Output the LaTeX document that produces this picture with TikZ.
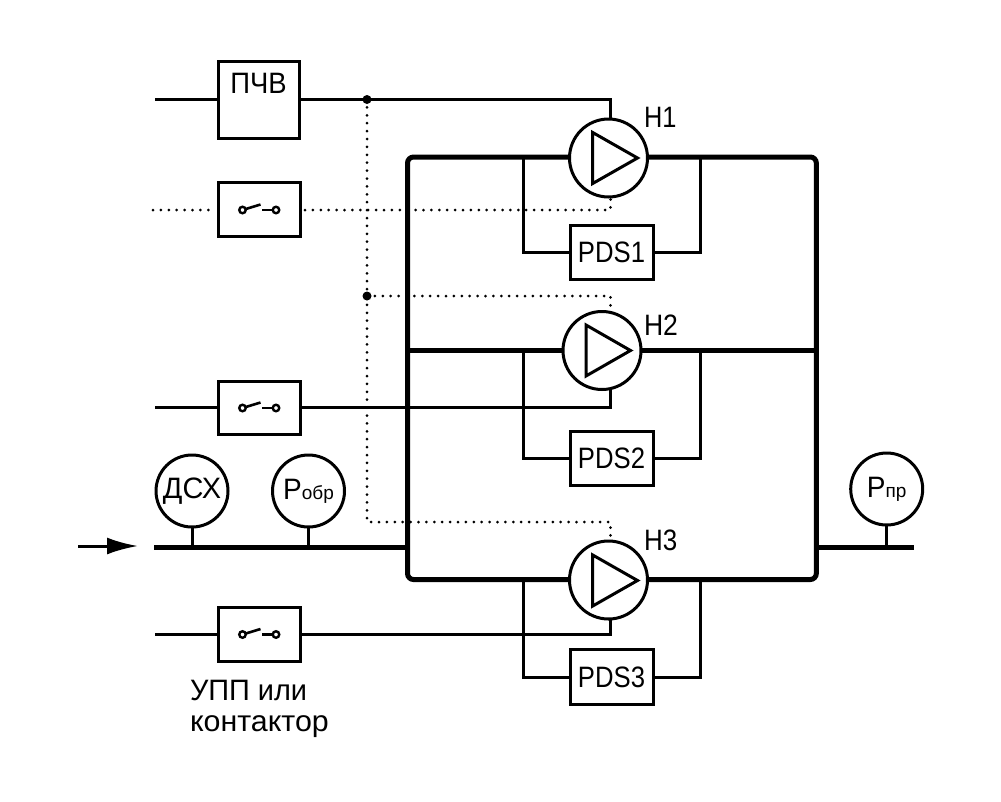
\documentclass[tikz,border=0pt]{standalone}
\usepackage{fontspec}
\setmainfont{Liberation Sans}
\usetikzlibrary{arrows.meta}
\newcommand{\strtxt}[2]{{\addfontfeature{FakeStretch=#1}#2}}
\tikzset{
  wire/.style={line width=3pt,draw=black},
  pipe/.style={line width=5pt,draw=black},
  dotline/.style={line width=3pt,line cap=round,dash pattern=on 0pt off 7.9pt,draw=black},
  box/.style={draw=black,line width=3pt,fill=white,rectangle,inner sep=0pt,outer sep=0pt,font=\fontsize{29.5}{30}\selectfont},
  pumpc/.style={draw=black,line width=3pt,fill=white,circle,inner sep=0pt,outer sep=0pt,minimum size=78pt},
  gauge/.style={draw=black,line width=3pt,fill=white,circle,inner sep=0pt,outer sep=0pt,minimum size=72pt,font=\fontsize{29.5}{30}\selectfont},
  tri/.style={draw=black,line width=3pt,line join=miter,fill=none},
  lab/.style={anchor=base west,inner sep=0pt,outer sep=0pt,font=\fontsize{29.5}{30}\selectfont},
  caption/.style={anchor=base west,inner sep=0pt,outer sep=0pt,font=\fontsize{29.5}{30}\selectfont},
  junction/.style={circle,fill=black,inner sep=0pt,minimum size=9pt},
  contact/.style={circle,draw=black,line width=2.4pt,fill=white,inner sep=0pt,minimum size=6.5pt},
  swline/.style={line width=2.6pt,draw=black}
}
\newcommand{\subtxt}[1]{{\fontsize{19}{20}\selectfont #1}}
\begin{document}
\begin{tikzpicture}[x=1pt,y=-1pt]
\useasboundingbox[fill=white] (0,0) rectangle (1001,801);

% named points
\coordinate (in1) at (155,99.5);
\coordinate (in2) at (153,210);
\coordinate (in3) at (155,407.5);
\coordinate (in4) at (155,634.5);
\coordinate (j1) at (367,99.5);
\coordinate (j2) at (367,296);
\coordinate (c1) at (610.5,99.5);
\coordinate (c2) at (610.5,210);
\coordinate (c3) at (610.5,296);
\coordinate (c4) at (610.5,407.5);
\coordinate (c5) at (610.5,522);
\coordinate (c6) at (610.5,634.5);
\coordinate (d3) at (367,522);
\coordinate (g2) at (305,210);

% dotted control lines
\draw[dotline] (in2) -- (213,210);
\draw[dotline] (g2) -- (c2) -- (610.5,199);
\draw[dotline] (j1) -- (d3) -- (c5) -- (610.5,541);
\draw[dotline] (j2) -- (c3) -- (610.5,311);

% pipes
\coordinate (fl) at (407.5,157);
\coordinate (br) at (816.3,579.5);
\draw[pipe,rounded corners=6pt] (fl) rectangle (br);
\coordinate (m1) at (409,350.5);
\coordinate (m2) at (819,350.5);
\draw[pipe] (m1) -- (m2);
\coordinate (p1) at (154,547);
\coordinate (p2) at (407.5,547);
\coordinate (p3) at (816.3,547);
\coordinate (p4) at (914,547);
\draw[pipe] (p1) -- (p2);
\draw[pipe] (p3) -- (p4);

% boxes
\node[box,minimum width=81pt,minimum height=77pt] (pchv) at (258.5,100) {};
\node[lab,anchor=base] (pchvt) at (258.5,93) {\strtxt{0.93}{ПЧВ}};
\node[box,minimum width=82pt,minimum height=54pt] (s1) at (259,209) {};
\node[box,minimum width=82pt,minimum height=53pt] (s2) at (259,407.5) {};
\node[box,minimum width=82pt,minimum height=54pt] (s3) at (259,634) {};
\node[box,minimum width=83pt,minimum height=54pt] (pds1) at (611.5,252.5) {\strtxt{0.87}{PDS1}};
\node[box,minimum width=83pt,minimum height=54pt] (pds2) at (611.5,458) {\strtxt{0.87}{PDS2}};
\node[box,minimum width=83pt,minimum height=54.5pt] (pds3) at (611.5,677) {\strtxt{0.87}{PDS3}};

% pumps
\node[pumpc] (h1) at (608.5,158) {};
\node[pumpc] (h2) at (602,350.5) {};
\node[pumpc] (h3) at (608.5,580) {};

% solid control wires
\draw[wire] (in1) -- (pchv.west |- in1);
\draw[wire] (pchv.east |- in1) -- (c1) -- (c1 |- h1.north);
\draw[wire] (in3) -- (s2.west |- in3);
\draw[wire] (s2.east |- in3) -- (c4) -- (c4 |- h2.south);
\draw[wire] (in4) -- (s3.west |- in4);
\draw[wire] (s3.east |- in4) -- (c6) -- (c6 |- h3.south);

% pump symbols
\draw[tri] (592.7,132.5) -- (592.7,183.5) -- (637.5,158) -- cycle;
\draw[tri] (586,325) -- (586,376) -- (630.5,350.5) -- cycle;
\draw[tri] (592.7,555) -- (592.7,606) -- (637.5,580.5) -- cycle;

% bypass lines
\coordinate (b1a) at (523,157);
\coordinate (b1b) at (700,157);
\coordinate (b2a) at (523,350.5);
\coordinate (b2b) at (700,350.5);
\coordinate (b3a) at (523,579.5);
\coordinate (b3b) at (700,579.5);
\draw[wire] (b1a) |- (pds1.west);
\draw[wire] (b1b) |- (pds1.east);
\draw[wire] (b2a) |- (pds2.west);
\draw[wire] (b2b) |- (pds2.east);
\draw[wire] (b3a) |- (pds3.west);
\draw[wire] (b3b) |- (pds3.east);

% junctions
\node[junction] (jd1) at (j1) {};
\node[junction] (jd2) at (j2) {};

% gauges
\node[gauge] (dsx) at (192,491) {\strtxt{0.98}{ДСХ}};
\node[gauge] (pobr) at (308.5,491) {\strtxt{0.95}{P}\subtxt{обр}};
\node[gauge] (ppr) at (886.7,489) {\strtxt{0.95}{P}\subtxt{пр}};
\draw[wire] (dsx.south) -- (dsx.south |- p1);
\draw[wire] (pobr.south) -- (pobr.south |- p1);
\draw[wire] (ppr.south) -- (ppr.south |- p3);

% flow arrow
\coordinate (a1) at (78,546);
\coordinate (a2) at (138,546);
\draw[wire,-{Latex[length=31pt,width=17pt,sharp]}] (a1) -- (a2);

% switch glyphs
\foreach \n/\yy in {s1/210,s2/408,s3/634.5}{
  \draw[swline] (242.5,\yy) -- (260.5,\yy-5.5);
  \draw[swline] (262,\yy) -- (276,\yy);
  \node[contact] at (242.5,\yy) {};
  \node[contact] at (276,\yy) {};
}

% labels
\node[lab] (t1) at (644,127) {\strtxt{0.86}{Н1}};
\node[lab] (t2) at (644,335) {\strtxt{0.9}{Н2}};
\node[lab] (t3) at (644,550.5) {\strtxt{0.88}{Н3}};
\node[caption] (u1) at (190,700.5) {\strtxt{0.98}{УПП или}};
\node[caption] (u2) at (190,731.5) {\strtxt{1.03}{контактор}};
\end{tikzpicture}
\end{document}
